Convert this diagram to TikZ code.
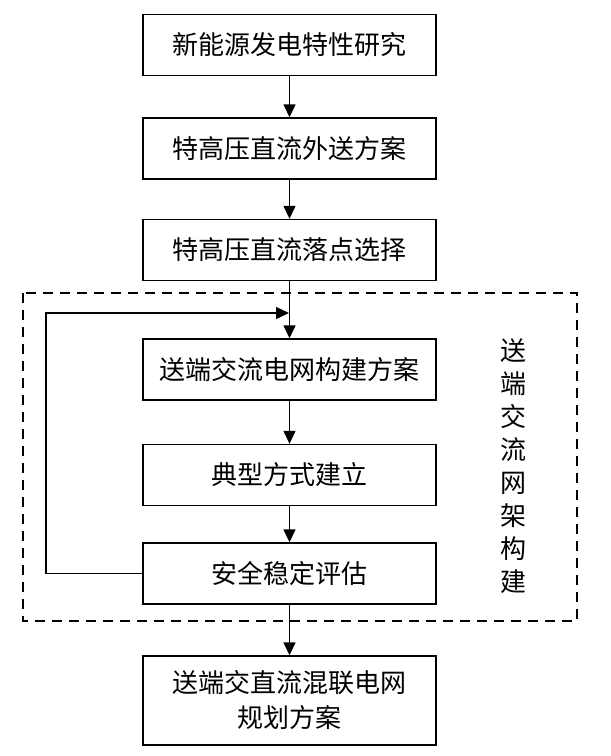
\documentclass[tikz,border=0pt]{standalone}
\usepackage{fontspec}
\newfontfamily\cjk{Noto Sans CJK SC}
\usetikzlibrary{arrows.meta}

\tikzset{
  blk/.style={draw, line width=1.4pt, minimum width=293pt, minimum height=61pt,
    inner sep=0pt, align=center, font=\cjk\fontsize{26}{35}\selectfont},
  flow/.style={line width=1.4pt, -{Triangle[length=13pt,width=12pt]}},
  frame/.style={line width=1.2pt, dash pattern=on 10pt off 7pt}
}

\begin{document}
\begin{tikzpicture}[x=1pt,y=-1pt]
  \useasboundingbox (0,0) rectangle (611,756);

  \node[blk] (yanjiu) at (289.5,45) {新能源发电特性研究};
  \node[blk] (waisong) at (289.5,148.5) {特高压直流外送方案};
  \node[blk] (luodian) at (289.5,250) {特高压直流落点选择};
  \node[blk] (goujian) at (289.5,369.5) {送端交流电网构建方案};
  \node[blk] (fangshi) at (289.5,475) {典型方式建立};
  \node[blk] (pinggu) at (289.5,573.5) {安全稳定评估};
  \node[blk, minimum height=89pt] (guihua) at (289.5,700.5) {送端交直流混联电网\\规划方案};

  % dashed frame and its label
  \draw[frame] (23,293) rectangle (577,621);
  \node[font=\cjk\fontsize{26}{33}\selectfont, align=center] (wangjia) at (513,466)
    {送\\端\\交\\流\\网\\架\\构\\建};

  \coordinate (huilu) at (289,313);

  \draw[flow] (yanjiu) -- (waisong);
  \draw[flow] (waisong) -- (luodian);
  \draw[flow] (luodian) -- (goujian);
  \draw[flow] (goujian) -- (fangshi);
  \draw[flow] (fangshi) -- (pinggu);
  \draw[flow] (pinggu) -- (guihua);
  \draw[flow] (pinggu.west) -| (46,313) -- (huilu);
\end{tikzpicture}
\end{document}
